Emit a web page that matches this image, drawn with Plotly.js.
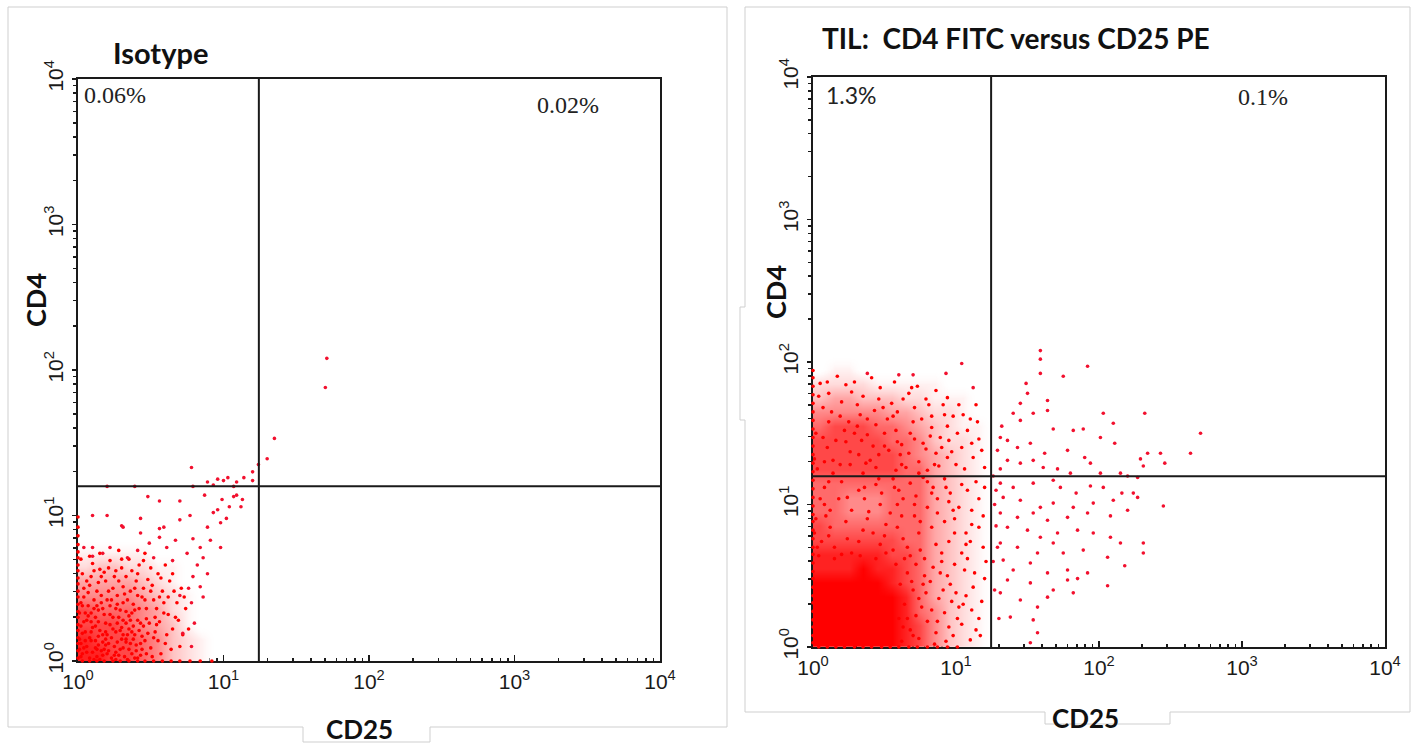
<!DOCTYPE html>
<html><head><meta charset="utf-8">
<script src="https://cdn.plot.ly/plotly-3.0.1.min.js"></script>
<style>html,body{margin:0;padding:0;background:#fff}#chart{width:1413px;height:746px}</style>
</head><body><div id="chart"></div>
<script>
// All event values are log10 fluorescence in hundredths of a decade (0 -> 10^0, 100 -> 10^1).
const decadeTicks = [1, 10, 100, 1000, 10000];
const decadeLabels = ['10<sup>0</sup>', '10<sup>1</sup>', '10<sup>2</sup>', '10<sup>3</sup>', '10<sup>4</sup>'];

// Quadrant gates (CD25, CD4)
const isoGate = [17.5, 15.9];
const tilGate = [17.6, 15.8];

// Quadrant percentages
const isoPercents = ['0.06%', '0.02%'];
const tilPercents = ['1.3%', '0.1%'];

// ---- Isotype panel ----
// relative event density per 0.1-decade cell (rows: CD4 from 10^0 upward; cols: CD25 from 10^0)
const isoDensity = [
  [8,8,7,7,6,5,3,2,1,0],
  [8,7,7,7,6,5,3,2,1,0],
  [7,7,7,6,5,4,3,1,0,0],
  [7,6,6,6,5,4,2,1,0,0],
  [5,5,5,5,4,3,2,1,0,0],
  [4,4,4,4,3,2,1,0,0,0],
  [2,3,3,2,2,1,1,0,0,0],
  [1,1,1,1,1,0,0,0,0,0],
  [0,0,0,0,0,0,0,0,0,0]
];
const isoCD25 = [3,8,12,5,17,21,9,26,14,30,2,19,35,7,24,39,11,28,43,16,33,46,4,22,37,50,13,41,27,53,8,31,47,19,56,36,60,25,44,62,3,52,15,40,58,30,65,48,10,22,55,68,35,63,70,42,6,10,15,18,23,27,32,36,40,44,49,51,6,12,18,20,24,29,34,38,42,45,7,11,16,21,26,31,34,38,4,9,14,18,24,28,33,37,1,1,2,57,61,64,67,72,74,54,59,66,71,45,50,60,2,8,15,28,46,19,13,5,29,43,22,37,48,53,17,26,33,41,12,7,20,39,31,9,55,
  2,6,11,14,4,8,16,20,25,28,31,34,38,3,10,15,19,23,27,30,35,40,42,5,9,14,22,29,33,36,2,12,17,21,26,31,39,44,47,13,
  1,4,9,14,19,23,27,32,35,39,43,46,50,52,56,6,11,16,21,26,30,41,45,51,57,62,65,69,73,76,3,13,17,25,33,37,41,47,54,59];
const isoCD4 = [5,2,9,14,4,12,20,6,17,15,24,26,8,31,22,18,36,30,4,40,26,14,44,38,33,9,48,28,45,20,52,40,36,55,27,48,12,58,44,32,60,42,63,55,48,64,22,56,67,69,60,40,70,55,10,66,10,6,1,8,2,13,3,12,7,17,26,3,28,24,32,18,30,21,18,24,36,24,38,42,45,48,36,51,42,39,50,58,54,61,50,55,58,62,33,15,40,5,18,8,30,18,36,36,40,48,50,50,64,66,70,72,74,76,74,11,3,20,8,12,25,5,19,30,36,20,34,45,30,47,42,50,28,14,14,
  3,6,1,11,9,16,7,5,10,4,9,1,15,19,23,21,15,16,26,23,22,11,21,33,27,27,32,35,13,28,12,14,13,7,1,18,2,8,29,38,
  8,27,33,35,20,42,39,46,31,35,26,42,48,16,44,55,62,58,64,62,70,60,69,52,57,44,60,28,44,22,38,8,18,4,15,20,2,5,25,33];
const isoSparseCD25 = [10,20,30,43,56,70,77,89,96,98,102,104,112,109,87,56,48,70,93,56,67,79,84,75,86,65,98,89,79,86,84,78,80,78,72,41,17,10,22,4,10,34,31,43,49,61,52,59,91,107,99,113,76,82,70,
  96,100,103,109,114,120,93,107,20,39,79,89,135,130,124,120,78,171,170];
const isoSparseCD4 = [100,100,93,98,91,97,100,92,104,95,98,106,106,114,114,110,113,110,102,85,83,84,78,74,71,69,78,60,58,44,51,40,26,10,19,76,74,78,78,78,72,71,92,88,81,78,71,92,83,113,111,111,50,66,45,
  125,124,126,123,126,124,121,120,120,120,120,123,153,139,135,130,133,208,188];
// events piled on the axes (CD25 = 10^0 or CD4 = 10^0)
const isoAxisCD4 = [2,7,12,16,21,25,30,34,39,44,48,53,57,62,66,71,75,80,86,92,99];
const isoAxisCD25 = [3,8,13,18,24,29,35,41,46,52,58,64,70,77,84,92];

// ---- TIL panel ----
const tilDensity = [
  [9,9,9,9,9,9,8,7,5,3,2,1,0,0],
  [9,9,9,9,9,9,8,7,5,3,2,1,0,0],
  [9,9,9,9,9,9,8,6,5,3,2,1,0,0],
  [9,9,9,9,9,9,8,6,4,3,2,1,0,0],
  [9,9,9,9,9,8,7,6,4,3,2,1,0,0],
  [8,8,8,9,8,8,7,6,4,3,2,1,0,0],
  [8,8,8,8,8,7,7,6,4,3,2,1,0,0],
  [7,7,7,7,7,7,6,6,4,3,2,1,0,0],
  [7,6,6,6,6,6,6,6,4,3,2,1,0,0],
  [6,6,5,5,5,6,6,6,4,3,2,1,0,0],
  [6,6,5,5,5,6,6,6,4,3,2,1,0,0],
  [6,6,6,6,6,6,6,6,4,3,2,1,0,0],
  [7,7,7,7,7,7,6,6,4,3,2,1,0,0],
  [7,7,7,7,7,7,6,5,4,3,2,1,0,0],
  [7,7,7,7,7,6,6,5,3,2,2,1,0,0],
  [6,7,7,7,6,6,5,4,3,2,1,1,0,0],
  [5,5,5,5,5,4,4,3,2,2,1,0,0,0],
  [3,4,4,3,3,3,2,2,1,1,1,0,0,0],
  [2,2,2,2,1,1,1,1,1,0,0,0,0,0],
  [0,1,1,0,0,0,0,0,0,0,0,0,0,0],
  [0,0,0,0,0,0,0,0,0,0,0,0,0,0]
];
const tilCD25 = [3,10,14,22,26,34,38,46,50,58,62,70,74,82,86,94,7,11,19,23,31,35,43,47,55,59,67,71,79,83,91,95,100,104,108,112,116,2,11,26,35,44,53,62,71,80,89,98,14,23,31,40,49,58,67,76,85,94,5,17,29,41,57,73,86,102,110,118,120,
  4,11,15,23,27,35,39,47,51,59,63,71,75,83,87,95,99,107,111,119,8,12,20,24,32,36,44,48,56,60,68,72,80,84,92,96,104,108,116,120,2,8,20,32,44,56,68,80,92,104,116,12,38,50,62,74,86,98,110,6,
  62,68,74,80,86,92,98,104,110,116,64,70,76,82,88,94,100,106,112,118,66,72,78,84,90,96,102,108,114,120,60,66,72,85,95,105,91,79,69,61,
  1,7,13,19,25,32,38,44,50,56,61,68,74,79,83,88,92,97,101,106,111,115,4,10,20,27,33,46,52,63,69,81,94,8,16,29,37,42,59,65,77,90,105,114,
  3,9,15,18,24,27,33,36,42,47,51,54,59,63,66,71,75,78,83,87,90,95,99,102,107,111,114,119,5,11,1,46,57,77,93,
  58,64,70,77,83,89,93,99,101,107,111,117,121,63,74,87,97,113];
const tilCD4 = [125,140,131,152,128,145,160,135,150,124,142,158,130,148,136,155,168,178,162,184,170,176,166,182,171,165,178,168,174,162,170,145,128,140,152,133,146,150,158,137,122,156,138,128,146,124,147,162,122,144,155,131,168,152,136,160,128,133,185,190,186,189,186,183,180,170,160,138,126,
  64,78,70,88,66,82,95,72,86,100,76,92,68,84,104,74,90,80,96,70,112,96,116,105,110,104,114,108,118,110,115,106,116,112,118,108,114,110,104,112,90,100,65,74,62,68,64,98,88,66,84,84,90,78,92,80,72,96,74,74,
  4,12,6,18,10,24,8,16,5,20,30,40,28,46,34,50,38,54,42,32,52,58,50,56,60,44,28,62,12,48,20,20,22,2,14,30,40,38,46,44,
  132,147,165,128,158,135,149,126,141,162,135,150,122,139,154,127,163,137,150,125,143,158,176,186,172,179,163,174,160,174,182,170,175,130,145,150,129,141,144,126,143,140,163,170,
  70,92,62,104,76,96,64,112,80,100,66,94,84,104,70,100,88,62,108,94,66,102,80,98,72,86,116,92,104,116,80,118,112,119,112,
  58,62,8,44,26,52,4,58,20,36,26,8,60,14,34,18,32,52];
const tilSparseCD25 = [132,140,145,149,150,159,159,159,175,192,164,164,154,145,168,182,189,203,210,232,271,264,243,234,229,231,246,211,201,190,194,178,171,162,152,143,136,131,129,136,145,154,161,131,180,201,215,220,227,
  131,140,154,168,173,184,194,203,216,224,210,196,182,168,159,145,133,131,143,154,164,178,192,208,220,245,227,136,150,159,171,185,196,208,231,231,215,131,143,157,168,175,189,206,218,133,140,152,164,178,192,206,136,152,168,182,131,145,157,164,138,154,157,152,178,185,
  127,128,126,129,127,128,130,126,38,60,70,93,104,112];
const tilSparseCD4 = [155,164,171,185,178,208,202,192,190,197,173,166,164,159,153,152,153,164,157,164,150,136,136,136,132,127,129,143,147,133,129,138,125,136,143,140,145,147,138,131,129,131,126,125,122,122,122,120,119,
  115,112,115,117,112,108,113,112,108,108,103,101,98,101,98,103,105,94,91,94,89,91,94,92,96,99,105,84,82,77,80,82,80,77,73,66,73,73,70,66,73,66,68,63,57,61,54,59,52,54,52,43,47,45,40,38,38,33,28,35,21,19,10,3,47,48,
  100,85,60,70,40,110,20,120,192,191,191,192,199,182];
const tilAxisCD4 = [3,8,14,19,25,31,36,42,48,53,59,65,70,76,82,88,93,99,105,111,117,123,129,135,141,147,153,159,165,171,177,183,189,194];
const tilAxisCD25 = [4,10,16,22,29,35,41,48,54,60,67,73,80,87,94,101];

// ---------- helpers ----------
const W = 1413, H = 746;
const val = c => Math.pow(10, c / 100);
const px = x => x / W, py = y => 1 - y / H;
const edges = n => Array.from({length: n + 1}, (_, i) => Math.pow(10, i * 0.1));
const RED = '#ff0000';
const DOT = '#f2102e';
const densityScale = [
  [0, 'rgba(255,255,255,0)'], [1/9, '#fff2f2'], [2/9, '#ffdcdc'], [3/9, '#ffc2c2'],
  [4/9, '#ffa6a6'], [5/9, '#ff8a8a'], [6/9, '#ff6a6a'], [7/9, '#ff4848'], [8/9, '#ff2222'], [1, RED]
];

function panel(xa, ya, density, cx, cy, sx, sy, axY, axX, gate) {
  const t = [];
  t.push({type: 'heatmap', xaxis: xa, yaxis: ya, z: density,
    x: edges(density[0].length), y: edges(density.length),
    zmin: 0, zmax: 9, zsmooth: 'best', colorscale: densityScale, showscale: false, hoverinfo: 'skip'});
  t.push({type: 'scatter', mode: 'markers', xaxis: xa, yaxis: ya,
    x: cx.map(val), y: cy.map(val), marker: {color: RED, size: 3.6}, hoverinfo: 'skip'});
  t.push({type: 'scatter', mode: 'markers', xaxis: xa, yaxis: ya,
    x: sx.map(val), y: sy.map(val), marker: {color: DOT, size: 3.6}, hoverinfo: 'skip'});
  t.push({type: 'scatter', mode: 'markers', xaxis: xa, yaxis: ya, cliponaxis: false,
    x: axY.map(() => 1).concat(axX.map(val)), y: axY.map(val).concat(axX.map(() => 1)),
    marker: {color: RED, size: 3.6}, hoverinfo: 'skip'});
  t.push({type: 'scatter', mode: 'lines', xaxis: xa, yaxis: ya,
    x: [gate[0], gate[0]], y: [1, 10000], line: {color: '#1a1a1a', width: 2}, hoverinfo: 'skip'});
  t.push({type: 'scatter', mode: 'lines', xaxis: xa, yaxis: ya,
    x: [1, 10000], y: [gate[1], gate[1]], line: {color: '#1a1a1a', width: 2}, hoverinfo: 'skip'});
  return t;
}

const traces = [].concat(
  panel('x', 'y', isoDensity, isoCD25, isoCD4, isoSparseCD25, isoSparseCD4, isoAxisCD4, isoAxisCD25, isoGate),
  panel('x2', 'y2', tilDensity, tilCD25, tilCD4, tilSparseCD25, tilSparseCD4, tilAxisCD4, tilAxisCD25, tilGate)
);

const minorVals = [];
for (let d = 0; d < 4; d++) for (let m = 2; m <= 9; m++) minorVals.push(m * Math.pow(10, d));

const tickFont = {family: 'Liberation Sans, Arial, sans-serif', size: 21, color: '#1a1a1a'};
function xAxis(domain, anchor) {
  return {domain, anchor, type: 'log', range: [0, 4], tickmode: 'array', tickvals: decadeTicks, ticktext: decadeLabels,
    ticks: 'inside', ticklen: 6, tickwidth: 1.5, tickcolor: '#1a1a1a', tickfont: tickFont, ticklabelstandoff: 1,
    minor: {tickmode: 'array', tickvals: minorVals, ticks: 'inside', ticklen: 3, tickcolor: '#1a1a1a', showgrid: false},
    showline: true, linecolor: '#1a1a1a', linewidth: 2, mirror: true, showgrid: false, zeroline: false,
    layer: 'below traces', fixedrange: true};
}
function yAxis(domain, anchor) {
  return {domain, anchor, type: 'log', range: [0, 4], tickmode: 'array', tickvals: decadeTicks, ticktext: decadeLabels,
    tickangle: -90, ticks: 'outside', ticklen: 4, tickwidth: 1.5, tickcolor: '#1a1a1a', tickfont: tickFont, ticklabelstandoff: 1,
    minor: {tickmode: 'array', tickvals: minorVals, ticks: 'outside', ticklen: 3, tickcolor: '#1a1a1a', showgrid: false},
    showline: true, linecolor: '#1a1a1a', linewidth: 2, mirror: true, showgrid: false, zeroline: false,
    layer: 'below traces', fixedrange: true};
}

const boldFont = size => ({family: 'Lato, "Open Sans", sans-serif', size, color: '#111', weight: 700});
const serif = {family: '"Liberation Serif", "Times New Roman", serif', size: 24, color: '#222'};
const ann = (text, x, y, font, extra) => Object.assign({text, x: px(x), y: py(y), xref: 'paper', yref: 'paper',
  showarrow: false, xanchor: 'left', yanchor: 'middle', font}, extra || {});

const annotations = [
  ann('Isotype', 111, 52, boldFont(29)),
  ann('TIL:  CD4 FITC versus CD25 PE', 820, 38, boldFont(28)),
  ann('CD4', 35, 300, boldFont(27), {textangle: -90, xanchor: 'center'}),
  ann('CD4', 775, 292, boldFont(27), {textangle: -90, xanchor: 'center'}),
  ann('CD25', 359, 729, boldFont(26), {xanchor: 'center'}),
  ann('CD25', 1085, 718, boldFont(26), {xanchor: 'center'}),
  ann(isoPercents[0], 82, 95, serif),
  ann(isoPercents[1], 535, 105, serif),
  ann(tilPercents[0], 824, 95, Object.assign({}, serif, {family: 'Lato, sans-serif', size: 23})),
  ann(tilPercents[1], 1236, 97, serif)
];

const P = pts => 'M' + pts.map(p => px(p[0]) + ',' + py(p[1])).join('L') + 'Z';
const frame = {color: '#cfcfcf', width: 1};
const shapes = [
  {type: 'path', xref: 'paper', yref: 'paper', line: frame, layer: 'below',
    path: P([[8,7],[727,7],[727,727],[430,727],[430,742],[303,742],[303,727],[8,727]])},
  {type: 'path', xref: 'paper', yref: 'paper', line: frame, layer: 'below',
    path: P([[745,7],[1410,7],[1410,712],[1170,712],[1170,724],[1045,724],[1045,712],[745,712],[745,420],[740,420],[740,307],[745,307]])}
];

const layout = {
  width: W, height: H, margin: {l: 0, r: 0, t: 0, b: 0},
  paper_bgcolor: '#fff', plot_bgcolor: '#fff', showlegend: false, hovermode: false,
  xaxis: xAxis([px(78), px(660)], 'y'),
  yaxis: yAxis([py(661), py(79)], 'x'),
  xaxis2: xAxis([px(813), px(1385)], 'y2'),
  yaxis2: yAxis([py(647), py(77)], 'x2'),
  annotations, shapes
};

Plotly.newPlot('chart', traces, layout, {staticPlot: true, displayModeBar: false});
</script></body></html>
